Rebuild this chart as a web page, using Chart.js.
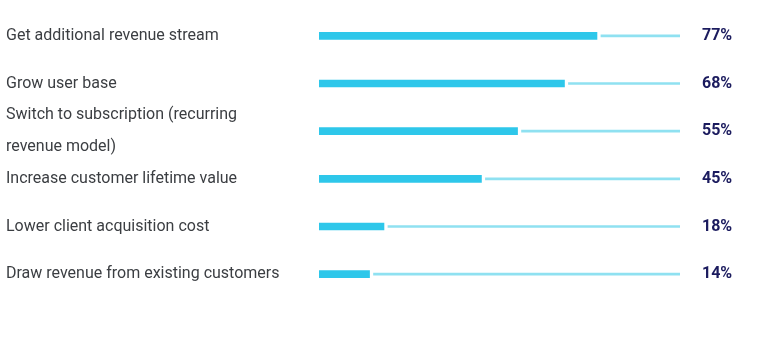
<!DOCTYPE html>
<html>
<head>
<meta charset="utf-8">
<script src="https://cdn.jsdelivr.net/npm/chart.js@4/dist/chart.umd.min.js"></script>
<style>
    body { margin: 0; background: #fff; }
</style>
</head>
<body>
<canvas id="chart" width="760" height="340"></canvas>
<script>
var categories = [
    'Get additional revenue stream',
    'Grow user base',
    ['Switch to subscription (recurring', 'revenue model)'],
    'Increase customer lifetime value',
    'Lower client acquisition cost',
    'Draw revenue from existing customers'
];
var values = [77, 68, 55, 45, 18, 14];
var valueLabels = ['77%', '68%', '55%', '45%', '18%', '14%'];

// thin track runs from a little after the bar up to 100
var trackGap = 1.1;
var tracks = values.map(function (v) {
    return [v + trackGap, 100];
});

function noPadding(scale, width) {
    scale.width = width;
    scale.paddingTop = 0;
    scale.paddingBottom = 0;
}

new Chart(document.querySelector('#chart').getContext('2d'), {
    type: 'bar',
    data: {
        labels: categories,
        datasets: [
            {
                data: values,
                backgroundColor: '#2ec7ea',
                barThickness: 7,
                grouped: false,
                borderWidth: 0
            },
            {
                data: tracks,
                backgroundColor: '#8fe1f1',
                barThickness: 2,
                grouped: false,
                borderWidth: 0
            }
        ]
    },
    options: {
        indexAxis: 'y',
        responsive: false,
        animation: false,
        layout: {
            padding: {left: 6, top: 12, bottom: 42, right: 0}
        },
        plugins: {
            legend: {display: false},
            tooltip: {enabled: false}
        },
        scales: {
            x: {
                display: false,
                min: 0,
                max: 100
            },
            y: {
                position: 'left',
                grid: {display: false, drawTicks: false},
                border: {display: false},
                ticks: {
                    autoSkip: false,
                    crossAlign: 'far',
                    color: '#3b3e42',
                    font: {family: 'Roboto', size: 16, lineHeight: 2},
                    padding: 0
                },
                afterFit: function (scale) {
                    noPadding(scale, 313);
                }
            },
            y2: {
                type: 'category',
                labels: valueLabels,
                position: 'right',
                grid: {display: false, drawTicks: false},
                border: {display: false},
                ticks: {
                    autoSkip: false,
                    crossAlign: 'near',
                    color: '#1b1b5e',
                    font: {family: 'Roboto', size: 16, weight: 'bold'},
                    padding: 22
                },
                afterFit: function (scale) {
                    noPadding(scale, 80);
                }
            }
        }
    }
});
</script>
</body>
</html>
